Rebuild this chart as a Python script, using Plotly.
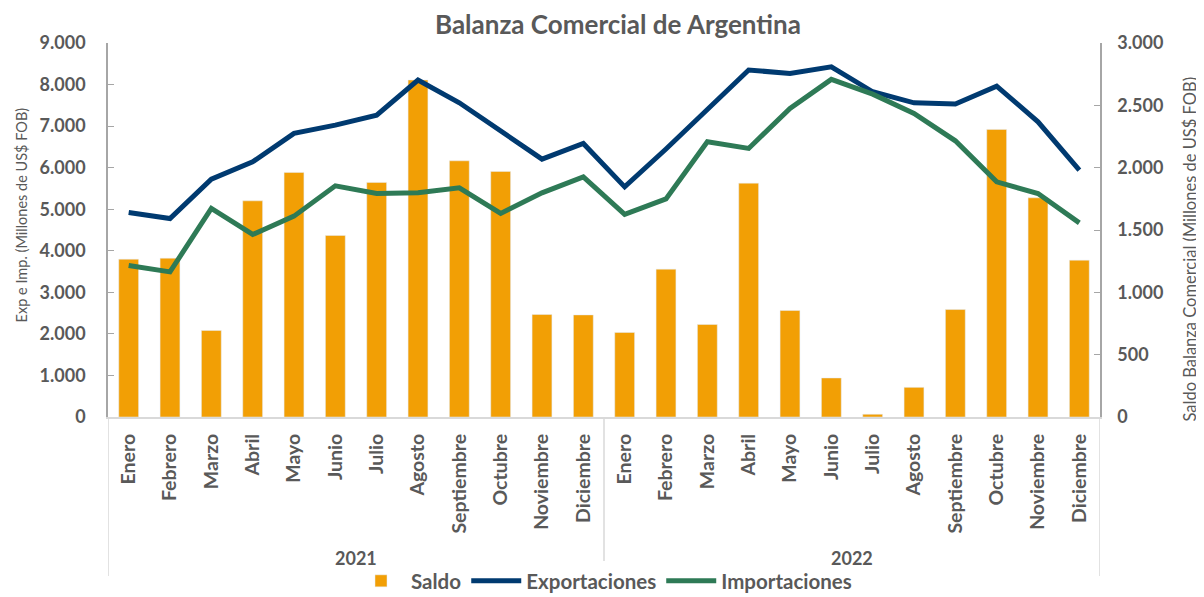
import plotly.graph_objects as go

months = ["Enero", "Febrero", "Marzo", "Abril", "Mayo", "Junio", "Julio", "Agosto",
          "Septiembre", "Octubre", "Noviembre", "Diciembre"]
years = ["2021", "2022"]

saldo = [1266, 1274, 694, 1734, 1962, 1456, 1882, 2703, 2055, 1970, 822, 819,
         678, 1186, 742, 1876, 854, 313, 22, 238, 862, 2307, 1758, 1258]
exportaciones = [4922, 4777, 5724, 6140, 6824, 7024, 7265, 8108, 7561, 6880, 6205, 6583,
                 5538, 6450, 7385, 8349, 8269, 8428, 7826, 7561, 7530, 7963, 7104, 5941]
importaciones = [3645, 3492, 5018, 4392, 4833, 5563, 5379, 5394, 5514, 4898, 5394, 5779,
                 4874, 5249, 6622, 6463, 7426, 8124, 7770, 7306, 6646, 5659, 5379, 4671]

labels = months * len(years)
xs = list(range(len(labels)))

GRAY = "#595959"
FONT = "Lato"

fig = go.Figure()
fig.add_trace(go.Bar(x=xs, y=saldo, name="Saldo", marker_color="#F29F05", yaxis="y"))
fig.add_trace(go.Scatter(x=xs, y=exportaciones, name="Exportaciones", mode="lines",
                         line=dict(color="#003A70", width=5), yaxis="y2"))
fig.add_trace(go.Scatter(x=xs, y=importaciones, name="Importaciones", mode="lines",
                         line=dict(color="#2E7A56", width=5), yaxis="y2"))

shapes = []
for xv in [-0.5, 11.5, 23.5]:
    shapes.append(dict(type="line", xref="x", yref="paper", x0=xv, x1=xv, y0=0, y1=-0.425,
                       line=dict(color="#D9D9D9", width=1.5)))

annotations = []
for i, yr in enumerate(years):
    annotations.append(dict(x=5.5 + 12 * i, y=-0.376, xref="x", yref="paper", text=yr,
                            showarrow=False,
                            font=dict(family=FONT, size=18, color=GRAY, weight="bold"),
                            yanchor="middle"))
annotations.append(dict(x=-0.0877, y=0.539, xref="paper", yref="paper",
                        text="Exp e Imp. (Millones de US$ FOB)", textangle=-90,
                        showarrow=False, xanchor="center", yanchor="middle",
                        font=dict(family=FONT, size=14.5, color=GRAY)))
annotations.append(dict(x=1.0907, y=0.4505, xref="paper", yref="paper",
                        text="Saldo Balanza Comercial (Millones de US$ FOB)", textangle=-90,
                        showarrow=False, xanchor="center", yanchor="middle",
                        font=dict(family=FONT, size=16.5, color=GRAY)))

tickfont = dict(family=FONT, size=18, color=GRAY, weight="bold")

fig.update_layout(
    width=1196, height=589,
    margin=dict(l=100, r=104, t=35, b=180, autoexpand=False),
    paper_bgcolor="white", plot_bgcolor="white",
    separators=",.",
    font=dict(family=FONT, color=GRAY),
    title=dict(text="Balanza Comercial de Argentina", x=0.5100, xanchor="center",
               y=0.971, yanchor="middle",
               font=dict(family=FONT, size=26, color=GRAY, weight="bold")),
    xaxis=dict(tickvals=xs, ticktext=labels, tickangle=-90, automargin=False,
               range=[-0.5, 23.5], showgrid=False, zeroline=False,
               showline=True, linecolor="#D9D9D9", linewidth=2, ticks="",
               ticklabelstandoff=7,
               tickfont=dict(family=FONT, size=19.5, color=GRAY, weight="bold")),
    yaxis=dict(range=[0, 3000], dtick=500, side="right", tickformat=",d", automargin=False,
               showgrid=False, zeroline=False, showline=True, linecolor="#A6A6A6",
               linewidth=1.5, ticks="inside", ticklen=6, tickcolor="#A6A6A6",
               ticklabelstandoff=12, tickfont=tickfont),
    yaxis2=dict(range=[0, 9000], dtick=1000, side="left", overlaying="y", tickformat=",d",
                automargin=False,
                showgrid=False, zeroline=False, showline=True, linecolor="#A6A6A6",
                linewidth=1.5, ticks="inside", ticklen=6, tickcolor="#A6A6A6",
                ticklabelstandoff=17, tickfont=tickfont),
    legend=dict(orientation="h", x=0.5, xanchor="center", y=-0.4385, yanchor="middle",
                font=dict(family=FONT, size=20.5, color=GRAY, weight="bold"),
                traceorder="normal", itemwidth=50),
    shapes=shapes,
    annotations=annotations,
    bargap=0.52,
)

fig.write_html("out.html")
